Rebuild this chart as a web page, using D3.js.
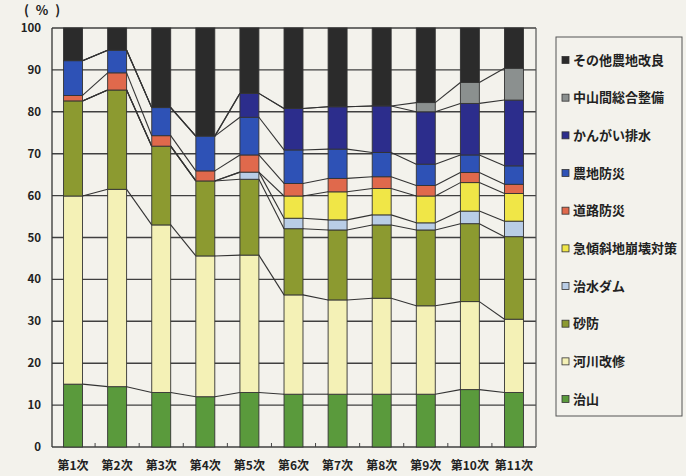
<!DOCTYPE html>
<html>
<head>
<meta charset="utf-8">
<script src="https://cdn.jsdelivr.net/npm/d3@7"></script>
<style>
  html, body { margin: 0; padding: 0; background: #f3f2ec; }
  svg { display: block; }
  text { font-family: "Noto Sans CJK JP", "Noto Sans", sans-serif; font-weight: bold; fill: #222; }
</style>
</head>
<body>
<svg id="chart" width="686" height="476"></svg>
<script>
// Periods (第1次 … 第11次)
const categories = ["第1次", "第2次", "第3次", "第4次", "第5次", "第6次", "第7次", "第8次", "第9次", "第10次", "第11次"];

// Series in stacking order, bottom to top (percent share per period)
const seriesNames = ["治山", "河川改修", "砂防", "治水ダム", "急傾斜地崩壊対策", "道路防災", "農地防災", "かんがい排水", "中山間総合整備", "その他農地改良"];

const chisan        = [15.0, 14.4, 13.0, 12.0, 13.0, 12.6, 12.6, 12.6, 12.6, 13.7, 13.0];
const kasenKaishu   = [44.9, 47.1, 40.0, 33.6, 32.8, 23.7, 22.5, 22.9, 21.1, 21.0, 17.5];
const sabo          = [22.7, 23.7, 18.8, 17.9, 18.1, 15.8, 16.7, 17.5, 18.1, 18.6, 19.7];
const chisuiDam     = [0.0, 0.0, 0.0, 0.0, 1.7, 2.5, 2.4, 2.4, 1.7, 3.0, 3.7];
const kyukeisha     = [0.0, 0.0, 0.0, 0.0, 0.0, 5.3, 6.7, 6.3, 6.4, 6.8, 6.6];
const doroBosai     = [1.3, 4.1, 2.5, 2.4, 4.1, 3.0, 3.2, 2.8, 2.5, 2.4, 2.2];
const nochiBosai    = [8.3, 5.4, 6.7, 8.3, 9.0, 8.0, 7.0, 5.8, 5.1, 4.2, 4.4];
const kangaiHaisui  = [0.0, 0.0, 0.0, 0.0, 5.7, 9.9, 10.1, 11.1, 12.5, 12.3, 15.7];
const chusankan     = [0.0, 0.0, 0.0, 0.0, 0.0, 0.0, 0.0, 0.0, 2.2, 5.0, 7.6];
const sonotaNochi   = [7.8, 5.3, 19.0, 25.8, 15.6, 19.2, 18.8, 18.6, 17.8, 13.0, 9.6];

const seriesValues = [chisan, kasenKaishu, sabo, chisuiDam, kyukeisha, doroBosai, nochiBosai, kangaiHaisui, chusankan, sonotaNochi];
const seriesColors = ["#5a9a3c", "#f4f1b6", "#8c9a30", "#b9cde6", "#f0e647", "#e0694c", "#2e52b6", "#2c2d8c", "#8b908f", "#2b2b2b"];

const yTicks = [0, 10, 20, 30, 40, 50, 60, 70, 80, 90, 100];

// Build row objects for d3.stack
const rows = categories.map((c, i) => {
  const r = { cat: c };
  seriesNames.forEach((s, k) => { r[s] = seriesValues[k][i]; });
  return r;
});
const stacked = d3.stack().keys(seriesNames)(rows);

const svg = d3.select("#chart");
const plotLeft = 52, plotRight = 536, plotTop = 28, plotBottom = 447;

const x = d3.scaleBand().domain(categories).range([51, 536]).paddingInner(0.57).paddingOuter(0.285);
const y = d3.scaleLinear().domain([0, 100]).range([plotBottom, plotTop]);

// Horizontal grid lines
svg.append("g").selectAll("line").data(yTicks).join("line")
  .attr("x1", plotLeft).attr("x2", plotRight)
  .attr("y1", d => y(d)).attr("y2", d => y(d))
  .attr("stroke", "#404040").attr("stroke-width", 1.4);

// Plot frame
svg.append("line").attr("x1", plotLeft).attr("x2", plotLeft).attr("y1", plotTop).attr("y2", plotBottom)
  .attr("stroke", "#333").attr("stroke-width", 1.3);
svg.append("line").attr("x1", plotRight).attr("x2", plotRight).attr("y1", plotTop).attr("y2", plotBottom)
  .attr("stroke", "#555").attr("stroke-width", 1.2);

// Small tick marks at category boundaries on the baseline
const step = x.step();
const bounds = d3.range(1, categories.length).map(i => x(categories[i]) - (step - x.bandwidth()) / 2);
svg.append("g").selectAll("line").data(bounds).join("line")
  .attr("x1", d => d).attr("x2", d => d)
  .attr("y1", plotBottom).attr("y2", plotBottom - 4)
  .attr("stroke", "#444").attr("stroke-width", 1);

// Connector lines between neighbouring bars at each series boundary
const conn = svg.append("g").attr("stroke", "#333").attr("stroke-width", 1.1).attr("fill", "none");
stacked.slice(0, -1).forEach(layer => {
  for (let i = 0; i < categories.length - 1; i++) {
    conn.append("line")
      .attr("x1", x(categories[i]) + x.bandwidth())
      .attr("x2", x(categories[i + 1]))
      .attr("y1", y(layer[i][1]))
      .attr("y2", y(layer[i + 1][1]));
  }
});

// Stacked bars
svg.append("g").selectAll("g").data(stacked).join("g")
  .attr("fill", (d, k) => seriesColors[k])
  .selectAll("rect").data(d => d.filter(p => p[1] - p[0] > 0)).join("rect")
  .attr("x", p => x(p.data.cat))
  .attr("width", x.bandwidth())
  .attr("y", p => y(p[1]))
  .attr("height", p => y(p[0]) - y(p[1]))
  .attr("stroke", "#333").attr("stroke-width", 0.9);

// Y axis labels
svg.append("g").selectAll("text").data(yTicks).join("text")
  .attr("x", 41).attr("y", d => y(d)).attr("dy", "0.35em")
  .attr("text-anchor", "end").attr("font-size", 11.5)
  .text(d => d);

svg.append("text").attr("x", 43).attr("y", 15).attr("text-anchor", "middle")
  .attr("font-size", 13).attr("letter-spacing", 2).text("( % )");

// Category labels
svg.append("g").selectAll("text").data(categories).join("text")
  .attr("x", d => x(d) + x.bandwidth() / 2).attr("y", 470)
  .attr("text-anchor", "middle").attr("font-size", 12)
  .text(d => d);

// Legend (top item is the top of the stack)
const legendItems = seriesNames.map((n, k) => ({ name: n, color: seriesColors[k] })).reverse();
svg.append("rect").attr("x", 556).attr("y", 37).attr("width", 126).attr("height", 379)
  .attr("fill", "none").attr("stroke", "#555").attr("stroke-width", 1);
const lg = svg.append("g").selectAll("g").data(legendItems).join("g")
  .attr("transform", (d, i) => `translate(562, ${60 + i * 37.67})`);
lg.append("rect").attr("x", 0).attr("y", -3.5).attr("width", 7).attr("height", 7)
  .attr("fill", d => d.color).attr("stroke", "#333").attr("stroke-width", 0.8);
lg.append("text").attr("x", 11).attr("y", 0).attr("dy", "0.36em")
  .attr("font-size", 13).text(d => d.name);
</script>
</body>
</html>
